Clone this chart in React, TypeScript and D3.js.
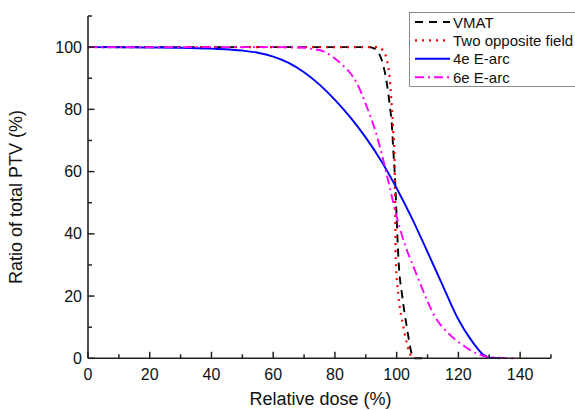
import React from "react";
import * as d3 from "d3";

const seriesNames = ["VMAT", "Two opposite field", "4e E-arc", "6e E-arc"];
const seriesColors = ["#000000", "#ff0000", "#0000ff", "#ff00ff"];

const vmat: [number, number][] = [
  [0, 100], [91, 100], [92.5, 99.7], [93.5, 99], [95.7, 94], [96.8, 88.5], [97.8, 81],
  [98.4, 75.6], [98.9, 67], [99.6, 55], [100, 45], [100.6, 31.6], [101.8, 20], [103.3, 10],
  [104.5, 3], [105.4, 0], [110, 0],
];
const twoField: [number, number][] = [
  [0, 100], [94, 100], [95.5, 99], [96.8, 96], [97.8, 89.5], [98.4, 81], [98.9, 73],
  [99.3, 65], [99.5, 50], [99.7, 32], [100.6, 20], [102.2, 10], [103.5, 4], [104.9, 0],
];
const e4: [number, number][] = [
  [0, 100], [20, 99.9], [30, 99.8], [40, 99.5], [50, 98.9], [55, 98.2], [60, 96.95],
  [65, 94.95], [70, 91.95], [75, 87.95], [80, 83.05], [85, 77.4], [90, 70.9], [95, 63.4],
  [100, 54.65], [105, 44.9], [109.7, 34.8], [114.6, 24.1], [119.5, 13.4], [124.9, 4.8],
  [128.1, 1.1], [130.2, 0.2], [133.5, 0],
];
const e6: [number, number][] = [
  [0, 100], [60, 100], [70, 99.8], [72, 99.5], [76.3, 98.6], [81.7, 94.9], [87.1, 88.4],
  [90.3, 80.9], [93, 73.4], [95.1, 65.9], [97.5, 56], [100, 45.5], [103.3, 34.8],
  [105.4, 29.5], [107.6, 24.1], [109.8, 18.7], [112.4, 13.4], [116.8, 8], [122.2, 3.7],
  [125.9, 1.6], [129.2, 0.5], [137.8, 0],
];
const seriesData = [vmat, twoField, e4, e6];
const seriesDash = ["8,6", "2,5", "", "9,4,2,4"];

const xMajorTicks = [0, 20, 40, 60, 80, 100, 120, 140];
const xMinorTicks = [10, 30, 50, 70, 90, 110, 130, 150];
const yMajorTicks = [0, 20, 40, 60, 80, 100];
const yMinorTicks = [10, 30, 50, 70, 90, 110];

const W = 575;
const H = 410;

export default function App() {
  const x = d3.scaleLinear().domain([0, 150]).range([88, 551]);
  const y = d3.scaleLinear().domain([0, 110]).range([358.3, 16]);
  const line = d3
    .line<[number, number]>()
    .x((d) => x(d[0]))
    .y((d) => y(d[1]))
    .curve(d3.curveMonotoneX);
  const font = "Liberation Sans, Arial, sans-serif";
  const axisColor = "#222";
  const x0 = x(0);
  const y0 = y(0);
  return (
    <svg
      width={W}
      height={H}
      style={{ position: "absolute", left: 0, top: 0, background: "#fff" }}
      fontFamily={font}
    >
      <rect x={0} y={0} width={W} height={H} fill="#fff" />
      {/* curves */}
      {seriesData.map((d, i) => (
        <path
          key={i}
          d={line(d) || ""}
          fill="none"
          stroke={seriesColors[i]}
          strokeWidth={i === 1 ? 2.2 : 1.9}
          strokeDasharray={seriesDash[i] || undefined}
        />
      ))}
      {/* axes */}
      <line x1={x0} x2={x(150)} y1={y0} y2={y0} stroke={axisColor} strokeWidth={1.6} />
      <line x1={x0} x2={x0} y1={y(110)} y2={y0} stroke={axisColor} strokeWidth={1.6} />
      {xMajorTicks.map((t) => (
        <g key={"xM" + t}>
          <line x1={x(t)} x2={x(t)} y1={y0} y2={y0 - 6.5} stroke={axisColor} strokeWidth={1.5} />
          <text x={x(t)} y={380} fontSize={16} textAnchor="middle" fill="#111">
            {t}
          </text>
        </g>
      ))}
      {xMinorTicks.map((t) => (
        <line key={"xm" + t} x1={x(t)} x2={x(t)} y1={y0} y2={y0 - 4} stroke={axisColor} strokeWidth={1.5} />
      ))}
      {yMajorTicks.map((t) => (
        <g key={"yM" + t}>
          <line x1={x0} x2={x0 + 6.5} y1={y(t)} y2={y(t)} stroke={axisColor} strokeWidth={1.5} />
          <text x={82} y={y(t)} fontSize={16} textAnchor="end" dominantBaseline="central" fill="#111">
            {t}
          </text>
        </g>
      ))}
      {yMinorTicks.map((t) => (
        <line key={"ym" + t} x1={x0} x2={x0 + 4} y1={y(t)} y2={y(t)} stroke={axisColor} strokeWidth={1.5} />
      ))}
      {/* axis titles */}
      <text x={320.5} y={405} fontSize={18} textAnchor="middle" fill="#111">
        Relative dose (%)
      </text>
      <text
        transform={`translate(22,197) rotate(-90)`}
        fontSize={18}
        textAnchor="middle"
        fill="#111"
      >
        Ratio of total PTV (%)
      </text>
      {/* legend */}
      <rect x={409.5} y={12.5} width={170} height={74} fill="#fff" stroke="#8a8a8a" strokeWidth={1} />
      {seriesNames.map((n, i) => {
        const ly = 22 + i * 18.4;
        return (
          <g key={n}>
            <line
              x1={415}
              x2={450}
              y1={ly}
              y2={ly}
              stroke={seriesColors[i]}
              strokeWidth={i === 1 ? 2.2 : 1.9}
              strokeDasharray={seriesDash[i] || undefined}
            />
            <text x={453} y={ly} fontSize={15} dominantBaseline="central" fill="#111">
              {n}
            </text>
          </g>
        );
      })}
    </svg>
  );
}
